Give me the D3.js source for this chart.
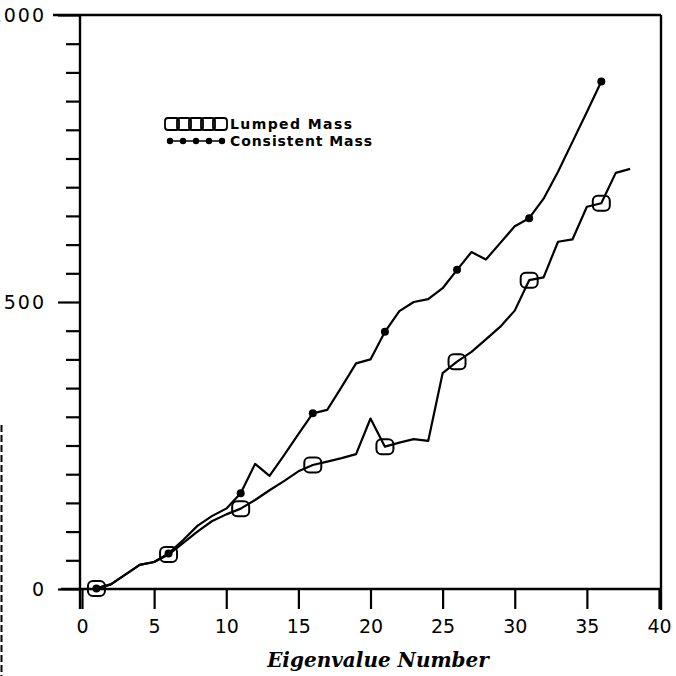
<!DOCTYPE html>
<html>
<head>
<meta charset="utf-8">
<script src="https://cdn.jsdelivr.net/npm/d3@7"></script>
<style>
  html, body { margin: 0; padding: 0; background: #fff; }
  svg { display: block; }
</style>
</head>
<body>
<svg id="chart" width="676" height="676"></svg>
<script>
// Eigenvalue magnitudes for the two mass formulations
const eigenNumber = [1, 2, 3, 4, 5, 6, 7, 8, 9, 10, 11, 12, 13, 14, 15, 16, 17, 18, 19, 20,
                     21, 22, 23, 24, 25, 26, 27, 28, 29, 30, 31, 32, 33, 34, 35, 36, 37, 38];
const lumpedMass = [1, 8, 25, 42, 47, 60, 80, 100, 118, 130, 140, 155, 172, 188, 205, 216, 222, 228, 235, 297,
                    248, 255, 261, 258, 376, 396, 413, 435, 457, 485, 538, 543, 605, 609, 666, 672, 725, 732];
const consistentMass = [1, 8, 25, 42, 47, 62, 85, 110, 127, 140, 167, 218, 197, 233, 270, 306, 312, 352, 393, 400,
                        448, 484, 500, 505, 524, 556, 587, 574, 603, 632, 646, 680, 727, 779, 831, 884];
const markedNumbers = [1, 6, 11, 16, 21, 26, 31, 36];

const xTickValues = [0, 5, 10, 15, 20, 25, 30, 35, 40];
const yMajorTicks = [0, 500, 1000];
const yMinorTicks = [50, 100, 150, 200, 250, 300, 350, 400, 450,
                     550, 600, 650, 700, 750, 800, 850, 900, 950];
const legendLabels = ["Lumped Mass", "Consistent Mass"];
const xTitle = "Eigenvalue Number";

const svg = d3.select("#chart");
const ink = "#000";

const x = d3.scaleLinear().domain([0, 40]).range([82, 659]);
const y = d3.scaleLinear().domain([0, 1000]).range([589, 15]);

const tickFont = "'DejaVu Sans', sans-serif";

// ----- frame -----
const frame = svg.append("g").attr("stroke", ink).attr("stroke-width", 2.4).attr("fill", "none");
frame.append("line").attr("x1", 53).attr("x2", 661).attr("y1", y(1000)).attr("y2", y(1000));
frame.append("line").attr("x1", 80).attr("x2", 80).attr("y1", y(1000)).attr("y2", 609);
frame.append("line").attr("x1", 661).attr("x2", 661).attr("y1", y(1000)).attr("y2", 610);
frame.append("line").attr("x1", 61).attr("x2", 661).attr("y1", y(0)).attr("y2", y(0));

// dashed rule on the far left edge
svg.append("line")
  .attr("x1", 1.5).attr("x2", 1.5).attr("y1", 425).attr("y2", 676)
  .attr("stroke", ink).attr("stroke-width", 2).attr("stroke-dasharray", "7,3");

// ----- y axis: minor and major ticks -----
const yMinor = svg.append("g").attr("transform", "translate(80,0)")
  .call(d3.axisLeft(y).tickValues(yMinorTicks).tickSize(14).tickFormat(""));
yMinor.select(".domain").remove();
yMinor.selectAll(".tick line").attr("stroke", ink).attr("stroke-width", 2.2);

const yMajor = svg.append("g").attr("transform", "translate(80,0)")
  .call(d3.axisLeft(y).tickValues(yMajorTicks).tickSize(22).tickPadding(12).tickFormat(d3.format("d")));
yMajor.select(".domain").remove();
yMajor.selectAll(".tick line").attr("stroke", ink).attr("stroke-width", 2.2);
yMajor.selectAll(".tick text")
  .attr("fill", ink).attr("font-family", tickFont).attr("font-size", 19)
  .attr("letter-spacing", "2px");

// ----- x axis -----
const xAxis = svg.append("g").attr("transform", `translate(0,${y(0)})`)
  .call(d3.axisBottom(x).tickValues(xTickValues).tickSize(20).tickPadding(11).tickFormat(d3.format("d")));
xAxis.select(".domain").remove();
xAxis.selectAll(".tick line").attr("stroke", ink).attr("stroke-width", 2.2);
xAxis.selectAll(".tick text")
  .attr("fill", ink).attr("font-family", tickFont).attr("font-size", 19);

svg.append("text")
  .attr("x", 378).attr("y", 667)
  .attr("text-anchor", "middle")
  .attr("font-family", "'DejaVu Serif', 'Liberation Serif', serif")
  .attr("font-weight", "bold").attr("font-style", "italic")
  .attr("font-size", 20)
  .attr("fill", ink)
  .text(xTitle);

// ----- series -----
const lumpedPts = eigenNumber.map((n, i) => [n, lumpedMass[i]]);
const consistentPts = eigenNumber.slice(0, consistentMass.length).map((n, i) => [n, consistentMass[i]]);

const line = d3.line().x(d => x(d[0])).y(d => y(d[1]));

svg.append("path").datum(consistentPts)
  .attr("d", line).attr("fill", "none").attr("stroke", ink)
  .attr("stroke-width", 2.2).attr("stroke-linejoin", "round");

svg.append("path").datum(lumpedPts)
  .attr("d", line).attr("fill", "none").attr("stroke", ink)
  .attr("stroke-width", 2.2).attr("stroke-linejoin", "round");

// consistent mass: filled dots
svg.append("g").selectAll("circle")
  .data(consistentPts.filter(d => markedNumbers.includes(d[0])))
  .join("circle")
  .attr("cx", d => x(d[0])).attr("cy", d => y(d[1]))
  .attr("r", 4).attr("fill", ink);

// lumped mass: open rounded squares
const boxW = 17, boxH = 15;
svg.append("g").selectAll("rect")
  .data(lumpedPts.filter(d => markedNumbers.includes(d[0])))
  .join("rect")
  .attr("x", d => x(d[0]) - boxW / 2).attr("y", d => y(d[1]) - boxH / 2)
  .attr("width", boxW).attr("height", boxH).attr("rx", 5)
  .attr("fill", "none").attr("stroke", ink).attr("stroke-width", 2);

// ----- legend -----
const legend = svg.append("g");
const legendFont = "'DejaVu Sans', sans-serif";

// row 1: run of overlapping boxes
const boxRun = [172, 184, 196, 208, 220];
legend.selectAll("rect.key")
  .data(boxRun).join("rect").attr("class", "key")
  .attr("x", d => d - 7).attr("y", 118).attr("width", 14).attr("height", 12).attr("rx", 3)
  .attr("fill", "none").attr("stroke", ink).attr("stroke-width", 1.8);
legend.append("text")
  .attr("x", 230).attr("y", 129)
  .attr("font-family", legendFont).attr("font-size", 14).attr("font-weight", "bold")
  .attr("textLength", 122).attr("lengthAdjust", "spacing")
  .attr("fill", ink).text(legendLabels[0]);

// row 2: run of dots
const dotRun = [170, 183, 196, 209, 222];
legend.append("line").attr("x1", 168).attr("x2", 224).attr("y1", 141).attr("y2", 141)
  .attr("stroke", ink).attr("stroke-width", 1.5);
legend.selectAll("circle.key")
  .data(dotRun).join("circle").attr("class", "key")
  .attr("cx", d => d).attr("cy", 141).attr("r", 3.2).attr("fill", ink);
legend.append("text")
  .attr("x", 230).attr("y", 146)
  .attr("font-family", legendFont).attr("font-size", 14).attr("font-weight", "bold")
  .attr("textLength", 142).attr("lengthAdjust", "spacing")
  .attr("fill", ink).text(legendLabels[1]);
</script>
</body>
</html>
